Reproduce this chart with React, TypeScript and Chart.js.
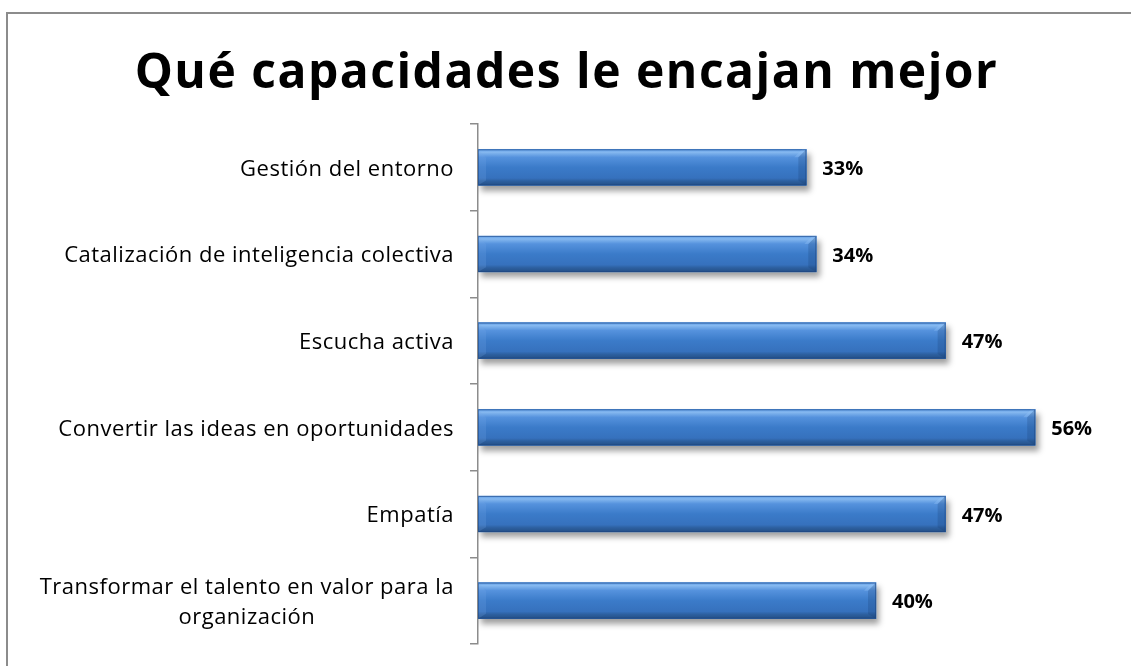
import React, { useEffect, useRef } from "react";
import { Chart, registerables } from "chart.js";

Chart.register(...registerables);

const title = "Qué capacidades le encajan mejor";
const categories: (string | string[])[] = [
  "Gestión del entorno",
  "Catalización de inteligencia colectiva",
  "Escucha activa",
  "Convertir las ideas en oportunidades",
  "Empatía",
  ["Transformar el talento en valor para la", "organización"],
];
const values = [33, 34, 47, 56, 47, 40];
const axisMax = 60;

const FONT = "Open Sans";
const LABEL_SIZE = 22;

const shadowPlugin = {
  id: "barShadow",
  beforeDatasetDraw(chart: any) {
    const ctx = chart.ctx;
    ctx.save();
    ctx.shadowColor = "rgba(0,0,0,0.38)";
    ctx.shadowOffsetX = 3;
    ctx.shadowOffsetY = 5;
    ctx.shadowBlur = 6;
  },
  afterDatasetDraw(chart: any) {
    chart.ctx.restore();
  },
};

const bevelPlugin = {
  id: "bevel",
  afterDatasetsDraw(chart: any) {
    const ctx = chart.ctx;
    const meta = chart.getDatasetMeta(0);
    meta.data.forEach((el: any) => {
      const p = el.getProps(["x", "y", "base", "height"], true);
      const left = Math.min(p.base, p.x);
      const right = Math.max(p.base, p.x);
      const top = p.y - p.height / 2;
      const bottom = p.y + p.height / 2;
      const h = bottom - top;
      const b = 8;
      ctx.save();
      const g = ctx.createLinearGradient(0, top, 0, bottom);
      g.addColorStop(0, "#5d9be6");
      g.addColorStop(0.08, "#86b9f0");
      g.addColorStop(0.22, "#5592dd");
      g.addColorStop(0.5, "#3b7bc9");
      g.addColorStop(0.8, "#3671bd");
      g.addColorStop(0.88, "#2d60a0");
      g.addColorStop(1, "#244f86");
      ctx.fillStyle = g;
      ctx.fillRect(left, top, right - left, h);
      // right bevel
      ctx.beginPath();
      ctx.moveTo(right, top);
      ctx.lineTo(right - b, top + b);
      ctx.lineTo(right - b, bottom - b * 0.6);
      ctx.lineTo(right, bottom);
      ctx.closePath();
      ctx.fillStyle = "rgba(25,60,110,0.22)";
      ctx.fill();
      // top-right highlight triangle
      ctx.beginPath();
      ctx.moveTo(right, top);
      ctx.lineTo(right - b, top + b);
      ctx.lineTo(right - b - 4, top + b);
      ctx.lineTo(right - 4, top);
      ctx.closePath();
      ctx.fillStyle = "rgba(150,195,245,0.35)";
      ctx.fill();
      // left bevel
      ctx.beginPath();
      ctx.moveTo(left, top);
      ctx.lineTo(left + b, top + b);
      ctx.lineTo(left + b, bottom - b * 0.6);
      ctx.lineTo(left, bottom);
      ctx.closePath();
      ctx.fillStyle = "rgba(120,170,230,0.22)";
      ctx.fill();
      // edge outline
      ctx.strokeStyle = "rgba(30,70,130,0.55)";
      ctx.lineWidth = 1;
      ctx.strokeRect(left + 0.5, top + 0.5, right - left - 1, h - 1);
      ctx.restore();
    });
  },
};

const textPlugin = {
  id: "customText",
  afterDraw(chart: any) {
    const ctx = chart.ctx;
    const yScale = chart.scales.y;
    const meta = chart.getDatasetMeta(0);
    ctx.save();
    ctx.fillStyle = "#000";
    ctx.textBaseline = "middle";
    // title
    ctx.font = `bold 48px "${FONT}"`;
    (ctx as any).letterSpacing = "1.5px";
    ctx.textAlign = "center";
    ctx.fillText(title, chart.width / 2 + 1, 74);
    // category labels
    ctx.font = `${LABEL_SIZE}px "${FONT}"`;
    (ctx as any).letterSpacing = "0.5px";
    const rightEdge = yScale.right - 24;
    const lh = 30;
    categories.forEach((lab, i) => {
      const cy = yScale.getPixelForValue(i) + 2;
      const lines = Array.isArray(lab) ? lab : [lab];
      const widths = lines.map((l) => ctx.measureText(l).width);
      const maxW = Math.max(...widths);
      const centerX = rightEdge - maxW / 2;
      lines.forEach((l, k) => {
        const y = cy + (k - (lines.length - 1) / 2) * lh;
        ctx.fillText(l, centerX, y);
      });
    });
    // value labels
    ctx.font = `bold 20px "${FONT}"`;
    (ctx as any).letterSpacing = "0px";
    ctx.textAlign = "left";
    meta.data.forEach((el: any, i: number) => {
      const p = el.getProps(["x", "y"], true);
      ctx.fillText(values[i] + "%", p.x + 16, p.y + 2);
    });
    ctx.restore();
  },
};

export default function App() {
  const ref = useRef<HTMLCanvasElement | null>(null);
  useEffect(() => {
    if (!ref.current) return;
    const chart = new Chart(ref.current, {
      type: "bar",
      data: {
        labels: categories as any,
        datasets: [
          {
            data: values,
            backgroundColor: "#3b7bc9",
            borderWidth: 0,
            barThickness: 36,
          },
        ],
      },
      options: {
        indexAxis: "y",
        animation: false,
        responsive: false,
        layout: { padding: { top: 124, right: 56, bottom: 22, left: 0 } },
        plugins: {
          legend: { display: false },
          tooltip: { enabled: false },
          title: { display: false },
        },
        scales: {
          x: { display: false, min: 0, max: axisMax },
          y: {
            ticks: { display: false },
            grid: {
              display: true,
              offset: true,
              drawOnChartArea: false,
              drawTicks: true,
              tickLength: 8,
              color: "#8c8c8c",
              lineWidth: 1.5,
            },
            border: { display: true, color: "#8c8c8c", width: 1.5 },
            afterFit(scale: any) {
              scale.width = 478;
            },
          },
        },
      },
      plugins: [shadowPlugin, bevelPlugin, textPlugin],
    });
    return () => chart.destroy();
  }, []);
  return (
    <div style={{ position: "fixed", left: 0, top: 0, width: 1131, height: 666, overflow: "hidden", background: "#fff" }}>
      <div
        style={{
          position: "absolute",
          left: 6,
          top: 12,
          width: 1300,
          height: 800,
          border: "2px solid #8c8c8c",
          boxSizing: "border-box",
        }}
      />
      <canvas ref={ref} width={1131} height={666} style={{ position: "absolute", left: 0, top: 0, display: "block" }} />
    </div>
  );
}
